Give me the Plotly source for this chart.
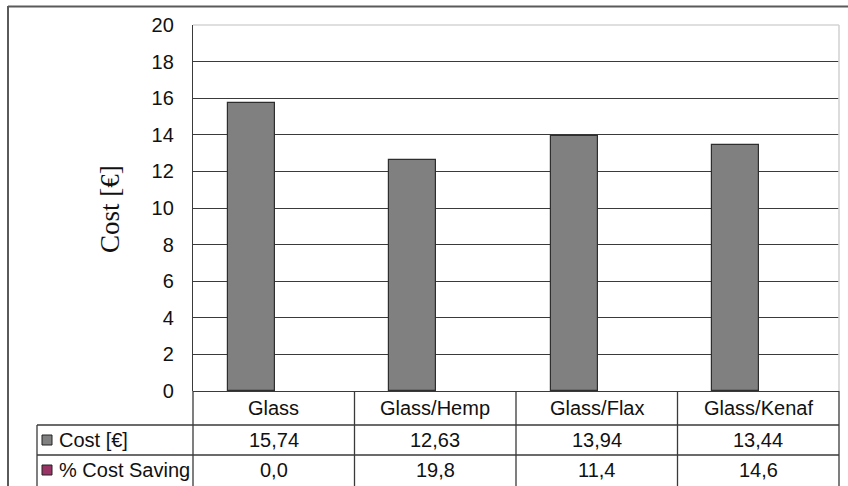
import plotly.graph_objects as go

# Data
categories = ["Glass", "Glass/Hemp", "Glass/Flax", "Glass/Kenaf"]
cost = [15.74, 12.63, 13.94, 13.44]
cost_saving = [0.0, 19.8, 11.4, 14.6]
series_names = ["Cost [€]", "% Cost Saving"]
y_ticks = [0, 2, 4, 6, 8, 10, 12, 14, 16, 18, 20]

W, H = 848, 486
PLOT_L, PLOT_R, PLOT_T, PLOT_B = 193, 839, 25, 391


def px(x):
    return x / W


def py(y):
    return 1 - y / H


def fmt(v, d):
    return f"{v:.{d}f}".replace(".", ",")


ARIAL = "Liberation Sans, Arial, sans-serif"
DARK = "#3a3a3a"
TXT = 20

fig = go.Figure()
fig.add_trace(go.Bar(
    x=categories, y=cost, name=series_names[0],
    width=0.29, offset=-0.285,
    marker=dict(color="#808080", line=dict(color="#2e2e2e", width=1.2)),
    showlegend=False,
))

shapes = []
# outer chart border (top + left)
shapes.append(dict(type="line", xref="paper", yref="paper", x0=px(8), x1=1.0, y0=py(6.5), y1=py(6.5),
                   line=dict(color="#5a5a5a", width=2)))
shapes.append(dict(type="line", xref="paper", yref="paper", x0=px(8), x1=px(8), y0=py(6), y1=0,
                   line=dict(color="#5a5a5a", width=2)))
# light plot-area border on top and right
shapes.append(dict(type="line", xref="paper", yref="paper", x0=px(PLOT_L), x1=px(PLOT_R), y0=py(PLOT_T), y1=py(PLOT_T),
                   line=dict(color="#d4d4d4", width=1.6), layer="above"))
shapes.append(dict(type="line", xref="paper", yref="paper", x0=px(PLOT_R), x1=px(PLOT_R), y0=py(PLOT_T), y1=py(PLOT_B),
                   line=dict(color="#d4d4d4", width=1.6), layer="above"))

# data table grid
row_lines = [425, 455]
for yy in row_lines:
    shapes.append(dict(type="line", xref="paper", yref="paper", x0=px(37), x1=px(PLOT_R), y0=py(yy), y1=py(yy),
                       line=dict(color=DARK, width=1.3)))
shapes.append(dict(type="line", xref="paper", yref="paper", x0=px(37), x1=px(37), y0=py(425), y1=0,
                   line=dict(color=DARK, width=1.3)))
cell_w = (PLOT_R - PLOT_L) / len(categories)
for i in range(len(categories) + 1):
    xx = PLOT_L + i * cell_w
    shapes.append(dict(type="line", xref="paper", yref="paper", x0=px(xx), x1=px(xx), y0=py(PLOT_B), y1=0,
                       line=dict(color=DARK, width=1.3)))

# legend keys in the table
key_colors = ["#808080", "#993366"]
row_centers = [440, 470]
for c, yc in zip(key_colors, row_centers):
    shapes.append(dict(type="rect", xref="paper", yref="paper", x0=px(42), x1=px(52), y0=py(yc - 5), y1=py(yc + 5),
                       fillcolor=c, line=dict(color="#222222", width=1)))

annotations = []
annotations.append(dict(text="Cost [€]", x=px(110), y=py(209), xref="paper", yref="paper", textangle=-90,
                        showarrow=False, font=dict(family="Liberation Serif, Times New Roman, serif", size=27, color="#111111"),
                        xanchor="center", yanchor="middle"))
for name, yc in zip(series_names, row_centers):
    annotations.append(dict(text=name, x=px(57), y=py(yc), xref="paper", yref="paper", showarrow=False,
                            xanchor="left", yanchor="middle", font=dict(family=ARIAL, size=TXT, color="#111111")))
for i, cat in enumerate(categories):
    annotations.append(dict(text=cat, x=cat, y=py(408), xref="x", yref="paper", showarrow=False,
                            xanchor="center", yanchor="middle", font=dict(family=ARIAL, size=TXT, color="#111111")))
    annotations.append(dict(text=fmt(cost[i], 2), x=cat, y=py(row_centers[0]), xref="x", yref="paper",
                            showarrow=False, xanchor="center", yanchor="middle",
                            font=dict(family=ARIAL, size=TXT, color="#111111")))
    annotations.append(dict(text=fmt(cost_saving[i], 1), x=cat, y=py(row_centers[1]), xref="x", yref="paper",
                            showarrow=False, xanchor="center", yanchor="middle",
                            font=dict(family=ARIAL, size=TXT, color="#111111")))

fig.update_layout(
    width=W, height=H,
    margin=dict(l=0, r=0, t=0, b=0, autoexpand=False),
    paper_bgcolor="white", plot_bgcolor="white",
    bargap=0,
    xaxis=dict(domain=[px(PLOT_L), px(PLOT_R)], range=[-0.5, 3.5], showticklabels=False,
               showgrid=False, zeroline=False, showline=False, fixedrange=True, automargin=False),
    yaxis=dict(domain=[py(PLOT_B), py(PLOT_T)], range=[0, 20], tickvals=y_ticks,
               ticktext=[str(t) for t in y_ticks], showgrid=True, gridcolor=DARK, gridwidth=1.3,
               zeroline=True, zerolinecolor=DARK, zerolinewidth=1.3,
               showline=True, linecolor=DARK, linewidth=1.3,
               ticks="", ticklabelstandoff=14, automargin=False,
               tickfont=dict(family=ARIAL, size=TXT, color="#111111"), fixedrange=True),
    shapes=shapes,
    annotations=annotations,
    showlegend=False,
)

fig.write_html("out.html")
